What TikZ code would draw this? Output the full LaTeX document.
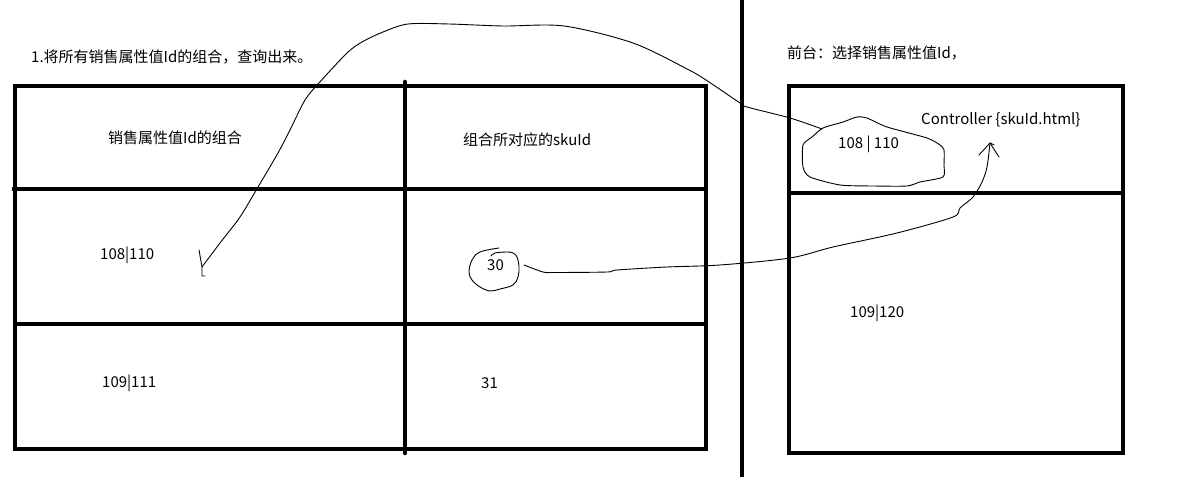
\documentclass[tikz,border=0pt]{standalone}
\usepackage{fontspec}
\setmainfont{Noto Sans CJK SC}
\begin{document}
\begin{tikzpicture}[x=1pt,y=-1pt,
  grid/.style={line width=4.5pt},
  pen/.style={line width=0.9pt, line join=round, line cap=round},
  lbl/.style={inner sep=0pt, anchor=west, font=\fontsize{15}{18}\selectfont}]
\useasboundingbox[fill=white] (0,0) rectangle (1204,478);
% divider
\draw[grid] (742,0) -- (742,477);
% left table
\draw[grid] (15,86) rectangle (706,449);
\draw[grid] (12,189) -- (706,189);
\draw[grid] (15,324) -- (706,324);
\draw[grid, line cap=round] (405,82) -- (405,453);
% right table
\draw[grid] (789,86) rectangle (1123,453);
\draw[grid] (789,193) -- (1123,193);
% texts
\node[lbl] (title) at (31,57) {1.将所有销售属性值Id的组合，查询出来。};
\node[lbl] (front) at (787,53) {前台：选择销售属性值Id，};
\node[lbl] (h1) at (108,138) {销售属性值Id的组合};
\node[lbl] (h2) at (463,140) {组合所对应的skuId};
\node[lbl] (a1) at (100,255) {108|110};
\node[lbl] (a2) at (102,383) {109|111};
\node[lbl] (b1) at (487,265) {30};
\node[lbl] (b2) at (481,383) {31};
\node[lbl] (c1) at (838,144) {108 | 110};
\node[lbl] (c2) at (921,120) {Controller \{skuId.html\}};
\node[lbl] (c3) at (850,313) {109|120};
% blob around 30
\draw[pen] plot[smooth, tension=0.6] coordinates {(499,248) (480,252) (472,260) (469,272) (472,280) (480,287) (490,291) (500,289) (513,285) (518,277) (519,267) (517,257) (513,253) (507,252) (495,253) (491,256)};
% blob around 108 | 110
\draw[pen] plot[smooth cycle, tension=0.4] coordinates {(803,145) (812,137) (823,128) (843,122) (857,117) (867,118) (887,127) (927,138) (940,145) (944,150) (944,165) (943,177) (920,182) (907,186) (873,186) (840,185) (810,177) (803,167)};
% connector 1: from blob to left cell
\coordinate (s1) at (822,129);
\coordinate (t1) at (202,267);
\draw[pen] plot[smooth, tension=0.5] coordinates {(s1) (790,118) (747,107) (740,103) (709,82) (689,70) (633,43) (564,26) (503,26) (449,24) (408,24) (383,32) (362,42) (347,53) (319,83) (305,100) (290,130) (278,153) (258,187) (240,217) (220,243) (t1)};
\draw[pen] (199,250) -- (t1) -- (202,276) -- (205,276);
% connector 2: from 30 to Controller
\coordinate (s2) at (524,265);
\coordinate (t2) at (990,143);
\draw[pen] plot[smooth, tension=0.5] coordinates {(s2) (543,272) (553,272.5) (607,272) (617,270) (667,267) (720,265) (790,258) (833,247) (897,233) (953,217) (960,208) (973,197) (982,182) (987,167) (t2)};
\draw[pen] (979,155) -- (t2) -- (999,157);
\draw[pen] (t2) -- (994,145);
\end{tikzpicture}
\end{document}
